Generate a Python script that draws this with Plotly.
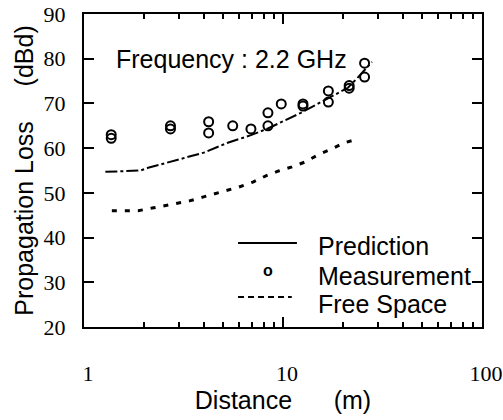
import plotly.graph_objects as go

# measured propagation loss (two readings at most distances)
meas_dist = [1.37, 1.37, 2.72, 2.72, 4.23, 4.23, 5.59, 6.9, 8.4, 8.4,
             9.8, 12.6, 12.6, 16.9, 16.9, 21.5, 21.5, 25.7, 25.7]
meas_loss = [62.2, 63.0, 64.3, 65.0, 65.9, 63.4, 65.0, 64.3, 67.9, 65.0,
             69.9, 69.4, 69.9, 72.8, 70.3, 73.4, 74.0, 79.0, 75.9]

pred_dist = [1.28, 1.92, 2.1, 2.72, 2.95, 3.72, 4.0, 5.28, 6.9, 8.4,
             9.77, 12.3, 15.5, 21.2, 24.0, 28.0]
pred_loss = [54.7, 55.0, 55.6, 56.9, 57.4, 58.5, 59.0, 61.2, 62.9, 64.4,
             65.8, 67.9, 70.3, 73.5, 76.0, 79.3]

free_dist = [1.38, 1.6, 1.87, 2.2, 2.53, 2.95, 3.39, 3.99, 4.53, 5.28,
             6.0, 7.06, 8.2, 9.5, 11.1, 12.9, 15.0, 17.5, 20.3, 23.6]
free_loss = [46.0, 46.0, 46.0, 46.6, 47.1, 47.7, 48.2, 49.1, 49.8, 50.6,
             51.3, 52.4, 53.8, 54.9, 55.8, 56.9, 58.5, 59.8, 61.2, 62.0]

x_ticks = [1, 10, 100]
x_minor = [2, 3, 4, 5, 6, 7, 8, 9, 20, 30, 40, 50, 60, 70, 80, 90]
y_ticks = [20, 30, 40, 50, 60, 70, 80, 90]

SANS = "Liberation Sans, Arial, sans-serif"
SERIF = "Liberation Serif, Times New Roman, serif"

fig = go.Figure()
fig.add_trace(go.Scatter(x=pred_dist, y=pred_loss, mode="lines", name="Prediction",
                         line=dict(color="black", width=2, dash="12px,3px,3px,3px")))
fig.add_trace(go.Scatter(x=free_dist, y=free_loss, mode="lines", name="Free Space",
                         line=dict(color="black", width=3, dash="5px,8px")))
fig.add_trace(go.Scatter(x=meas_dist, y=meas_loss, mode="markers", name="Measurement",
                         marker=dict(symbol="circle-open", size=9, color="black",
                                     line=dict(width=2, color="black"))))

axis_common = dict(showline=True, linecolor="black", linewidth=2, mirror="allticks",
                   ticks="inside", tickcolor="black", showgrid=False, zeroline=False,
                   automargin=False,
                   tickfont=dict(family=SERIF, size=22, color="black"))

fig.update_xaxes(type="log", range=[0, 2], tickvals=x_ticks, ticktext=["1", "10", "100"],
                 ticklen=10, tickwidth=2, ticklabelstandoff=26, ticklabelshift=4,
                 ticklabeloverflow="allow",
                 minor=dict(tickvals=x_minor, ticks="inside", ticklen=5, tickwidth=2,
                            tickcolor="black"),
                 title=dict(text="Distance      (m)", standoff=4,
                            font=dict(family=SANS, size=25, color="black")),
                 **axis_common)
fig.update_yaxes(range=[20, 90], tickvals=y_ticks, ticklen=10, tickwidth=2,
                 ticklabelstandoff=12,
                 title=dict(text="Propagation Loss     (dBd)", standoff=3,
                            font=dict(family=SANS, size=25, color="black")),
                 **axis_common)

# hand-drawn style legend in the lower right of the plot
legend_keys = [("Prediction", 0.259), ("Measurement", 0.163), ("Free Space", 0.073)]
for label, ypos in legend_keys:
    fig.add_annotation(x=0.582, y=ypos, xref="paper", yref="paper", text=label,
                       showarrow=False, xanchor="left", yanchor="middle",
                       font=dict(family=SANS, size=25, color="black"))
fig.add_shape(type="line", xref="paper", yref="paper", x0=0.387, x1=0.535, y0=0.268, y1=0.268,
              line=dict(color="black", width=2))
fig.add_shape(type="line", xref="paper", yref="paper", x0=0.387, x1=0.522, y0=0.096, y1=0.096,
              line=dict(color="black", width=2, dash="6px,4px"))
fig.add_annotation(x=0.462, y=0.182, xref="paper", yref="paper", text="<b>o</b>",
                   showarrow=False, xanchor="center", yanchor="middle",
                   font=dict(family=SANS, size=16, color="black"))

fig.add_annotation(x=0.075, y=0.856, xref="paper", yref="paper", text="Frequency : 2.2 GHz",
                   showarrow=False, xanchor="left", yanchor="middle",
                   font=dict(family=SANS, size=25, color="black"))

fig.update_layout(width=503, height=420, showlegend=False,
                  margin=dict(l=84, r=21, t=14, b=93),
                  plot_bgcolor="white", paper_bgcolor="white")

fig.write_html("out.html", config={"displayModeBar": False},
               post_script="document.body.style.margin='0px';")
